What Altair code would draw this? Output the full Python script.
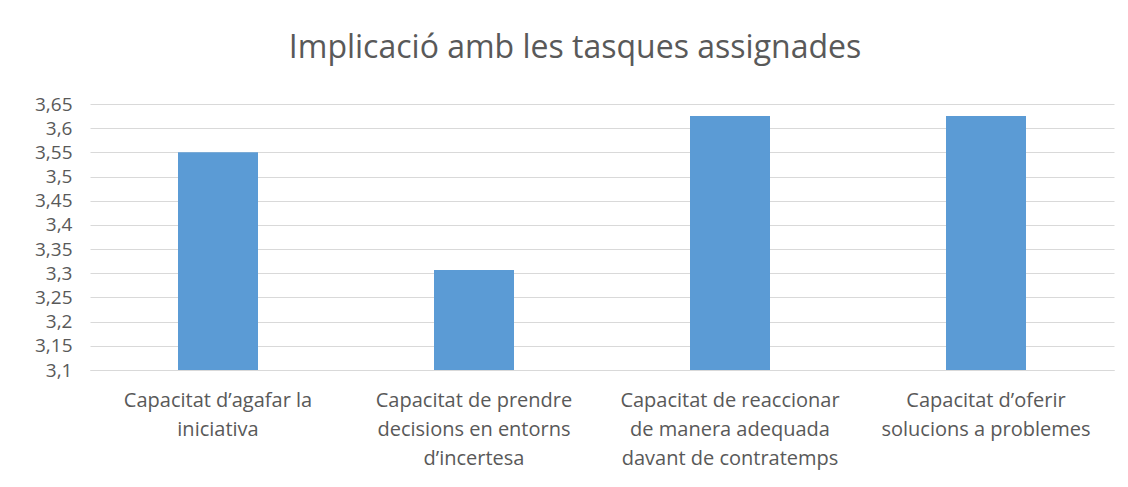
import altair as alt
import pandas as pd

categories = [
    "Capacitat d’agafar la|iniciativa",
    "Capacitat de prendre|decisions en entorns|d’incertesa",
    "Capacitat de reaccionar|de manera adequada|davant de contratemps",
    "Capacitat d’oferir|solucions a problemes",
]
values = [3.55, 3.307, 3.625, 3.625]
y_ticks = [3.1, 3.15, 3.2, 3.25, 3.3, 3.35, 3.4, 3.45, 3.5, 3.55, 3.6, 3.65]
title_text = "Implicació amb les tasques assignades"

df = pd.DataFrame({"cat": categories, "val": values})

FONT = "Open Sans"
GREY = "#595959"

chart = alt.Chart(df).mark_bar(color="#5b9bd5").encode(
    x=alt.X("cat:N", sort=categories, title=None,
            scale=alt.Scale(paddingInner=0.6875, paddingOuter=0.34375),
            axis=alt.Axis(labelExpr="split(datum.label, '|')", labelAngle=0,
                          labelFont=FONT, labelFontSize=20, labelColor=GREY,
                          labelPadding=20, labelLineHeight=29, ticks=False,
                          domainColor="#d9d9d9", labelLimit=300)),
    y=alt.Y("val:Q", title=None,
            scale=alt.Scale(domain=[3.1, 3.65], zero=False, nice=False),
            axis=alt.Axis(values=y_ticks,
                          labelExpr="replace(format(datum.value, '.2~f'), '.', ',')",
                          labelFont=FONT, labelFontSize=19, labelColor=GREY,
                          labelPadding=18, ticks=False, domain=False,
                          gridColor="#d9d9d9", gridWidth=1)),
    y2=alt.datum(3.1),
).properties(
    width=1024, height=266,
    title=alt.TitleParams(title_text, font=FONT, fontSize=32, fontWeight="normal",
                          color=GREY, anchor="middle", dx=-27, offset=30),
    autosize=alt.AutoSizeParams(type="none"),
    padding={"left": 82, "top": 96, "right": 4, "bottom": 100},
).configure_view(stroke=None)

chart.save("out.html", embed_options={"renderer": "svg", "actions": False})
